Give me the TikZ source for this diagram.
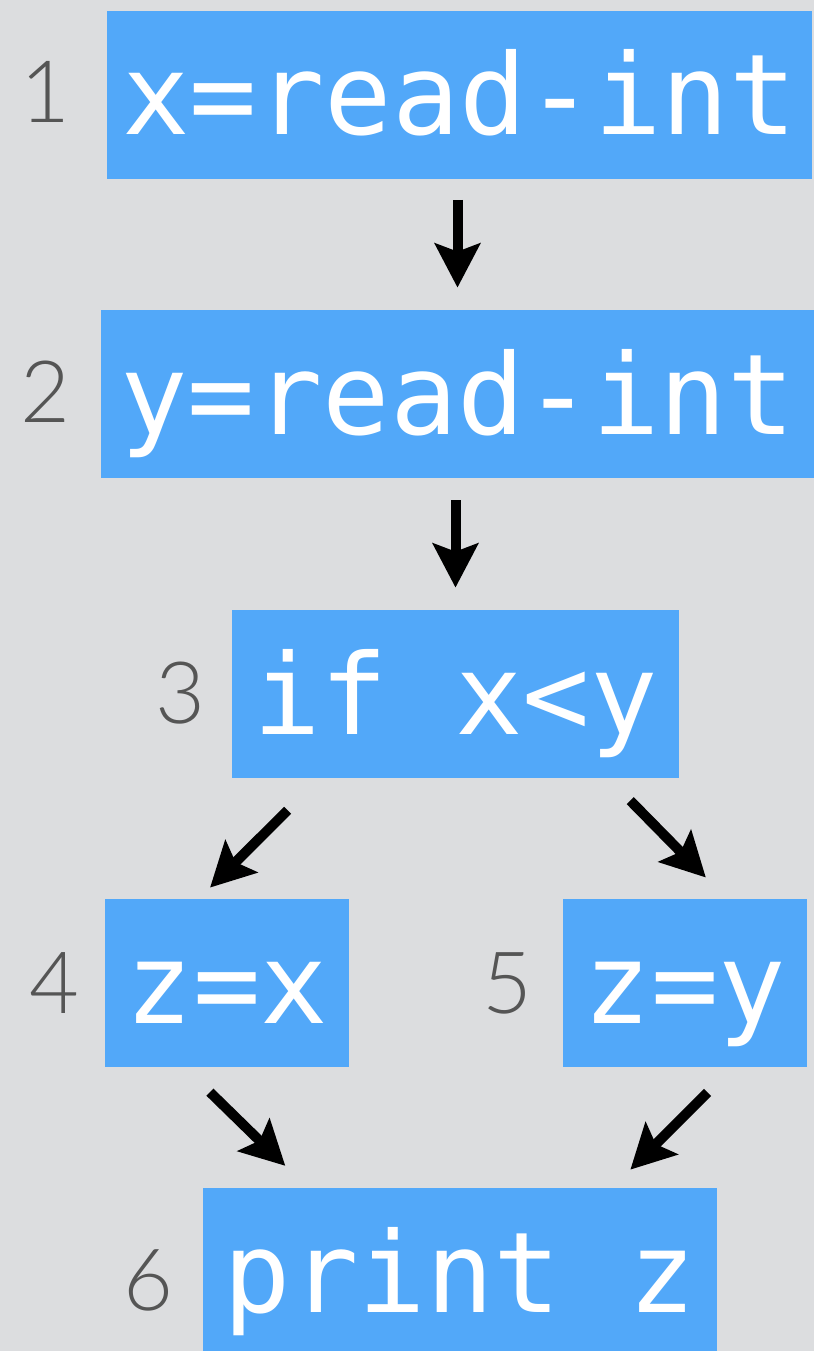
\documentclass[tikz,border=0pt]{standalone}
\usepackage{fontspec}
\setmainfont{Lato Light}
\setmonofont{DejaVu Sans Mono}
\usetikzlibrary{arrows.meta, positioning}
\definecolor{canvas}{HTML}{DCDDDF}
\definecolor{boxblue}{HTML}{52A8F9}
\definecolor{labgray}{HTML}{555555}

\begin{document}
\begin{tikzpicture}[
    x=0.5pt, y=-0.5pt,
    stmt/.style={rectangle, fill=boxblue, text=white, inner sep=0pt, text height=62pt, text depth=22pt, font=\ttfamily\fontsize{56}{56}\selectfont},
    lineno/.style={text=labgray, inner sep=0pt, font=\fontsize{43}{43}\selectfont},
    flow/.style={-{Stealth[length=22pt, width=22.5pt, inset=4pt]}, line width=5pt, black}
]
% Canvas
\fill[canvas] (0,0) rectangle (814,1351);
\useasboundingbox (0,0) rectangle (814,1351);

% Statements
\node[stmt, minimum width=352.5pt] (b1) at (459.5,94.5) {x=read-int};
\node[stmt, minimum width=356.5pt] (b2) at (457.5,394)  {y=read-int};
\node[stmt, minimum width=223.5pt] (b3) at (455.5,694)  {if x<y};
\node[stmt, minimum width=122pt]   (b4) at (227,983)    {z=x};
\node[stmt, minimum width=122pt]   (b5) at (685,983)    {z=y};
\node[stmt, minimum width=257pt]   (b6) at (460,1272)   {print z};

% Line numbers
\node[lineno] (n1) at (45,92)   {1};
\node[lineno] (n2) at (45,392)  {2};
\node[lineno] (n3) at (180,693) {3};
\node[lineno] (n4) at (54,983)  {4};
\node[lineno] (n5) at (507,983) {5};
\node[lineno] (n6) at (148,1280){6};

% Control flow
\draw[flow, shorten <=10.5pt, shorten >=11pt] (b1.south -| b2.north) -- (b2.north);
\draw[flow, shorten <=11pt, shorten >=11pt] (b2.south -| b3.north) -- (b3.north);
\draw[flow, shorten <=22.6pt, shorten >=7.8pt] ([xshift=44pt]b3.south west) -- ([xshift=-14pt]b4.north);
\draw[flow, shorten <=15.6pt, shorten >=14.8pt] ([xshift=-35.5pt]b3.south east) -- ([xshift=82pt]b5.north west);
\draw[flow, shorten <=17.7pt, shorten >=15.6pt] ([xshift=40pt]b4.south west) -- ([xshift=52.5pt]b6.north west);
\draw[flow, shorten <=17.7pt, shorten >=12.7pt] ([xshift=85pt]b5.south west) -- ([xshift=-52.5pt]b6.north east);
\end{tikzpicture}
\end{document}
